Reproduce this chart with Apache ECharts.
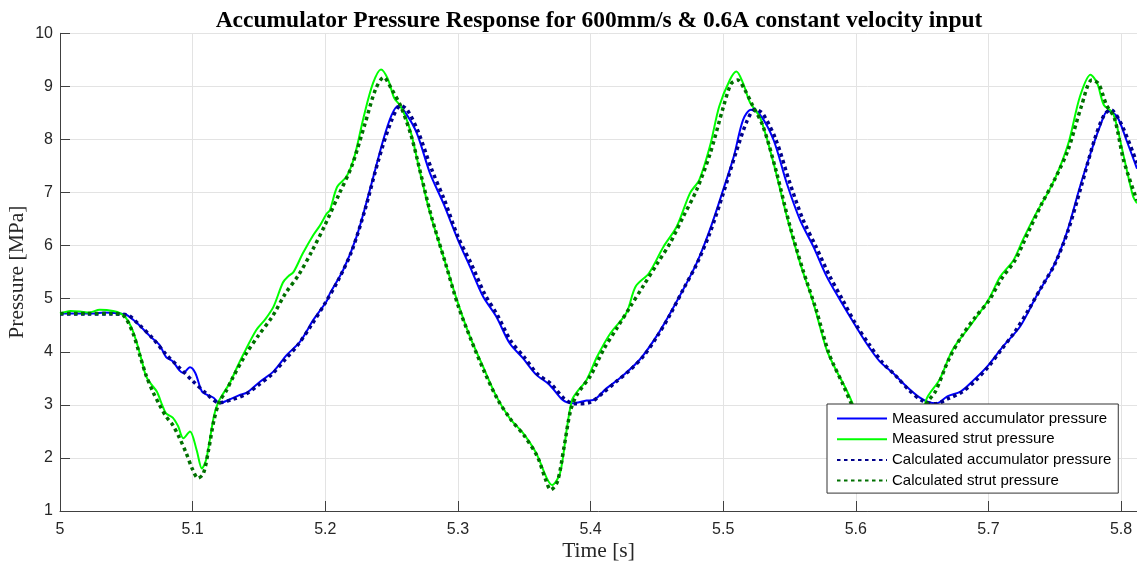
<!DOCTYPE html>
<html>
<head>
<meta charset="utf-8">
<script src="https://cdn.jsdelivr.net/npm/echarts@6/dist/echarts.min.js"></script>
<style>
html,body{margin:0;padding:0;background:#fff;}
#chart{width:1137px;height:565px;}
</style>
</head>
<body>
<div id="chart"></div>
<script>
// ---- Data ----
const titleText = 'Accumulator Pressure Response for 600mm/s & 0.6A constant velocity input';
const xTicks = [5, 5.1, 5.2, 5.3, 5.4, 5.5, 5.6, 5.7, 5.8];
const yTicks = [1, 2, 3, 4, 5, 6, 7, 8, 9, 10];
const seriesNames = ['Measured accumulator pressure', 'Measured strut pressure', 'Calculated accumulator pressure', 'Calculated strut pressure'];

const measAccT = [5.000,5.010,5.025,5.033,5.045,5.050,5.058,5.068,5.075,5.080,5.085,5.090,5.093,5.098,5.102,5.107,5.111,5.116,5.120,5.126,5.136,5.141,5.151,5.161,5.171,5.181,5.191,5.201,5.2035,5.2135,5.2236,5.2336,5.2437,5.250,5.255,5.260,5.269,5.279,5.289,5.300,5.309,5.319,5.329,5.339,5.349,5.359,5.369,5.379,5.386,5.397,5.402,5.412,5.422,5.437,5.452,5.467,5.480,5.490,5.500,5.508,5.515,5.521,5.528,5.538,5.548,5.558,5.568,5.578,5.588,5.600,5.608,5.618,5.628,5.638,5.648,5.655,5.661,5.669,5.679,5.689,5.700,5.711,5.724,5.736,5.749,5.759,5.769,5.777,5.784,5.790,5.797,5.804,5.812];
const measAccP = [4.72,4.72,4.72,4.74,4.72,4.70,4.54,4.29,4.13,3.90,3.82,3.65,3.60,3.71,3.60,3.25,3.19,3.13,3.03,3.08,3.19,3.23,3.44,3.63,3.94,4.19,4.60,4.95,5.10,5.54,6.17,7.05,7.99,8.46,8.63,8.52,8.12,7.36,6.80,6.11,5.61,5.04,4.66,4.16,3.88,3.57,3.38,3.09,3.03,3.08,3.09,3.31,3.50,3.85,4.38,5.04,5.67,6.30,7.05,7.68,8.37,8.56,8.46,7.99,7.17,6.48,5.98,5.42,4.98,4.48,4.16,3.82,3.60,3.35,3.14,3.05,3.03,3.16,3.25,3.47,3.75,4.10,4.48,5.04,5.61,6.24,7.11,7.74,8.24,8.54,8.43,7.99,7.45];

const measStrutT = [5.000,5.008,5.015,5.022,5.030,5.040,5.046,5.050,5.054,5.058,5.062,5.065,5.069,5.073,5.077,5.080,5.085,5.089,5.093,5.098,5.103,5.107,5.110,5.112,5.116,5.119,5.124,5.128,5.133,5.138,5.148,5.155,5.161,5.168,5.172,5.176,5.183,5.191,5.196,5.201,5.2035,5.209,5.216,5.222,5.229,5.236,5.242,5.247,5.252,5.257,5.264,5.271,5.279,5.289,5.300,5.309,5.319,5.329,5.339,5.349,5.359,5.367,5.371,5.377,5.382,5.386,5.390,5.397,5.405,5.415,5.427,5.434,5.444,5.455,5.465,5.475,5.482,5.490,5.497,5.505,5.510,5.515,5.520,5.528,5.538,5.548,5.558,5.568,5.578,5.585,5.593,5.598,5.605,5.615,5.625,5.635,5.641,5.647,5.653,5.663,5.673,5.686,5.700,5.709,5.719,5.726,5.736,5.746,5.754,5.761,5.769,5.777,5.782,5.787,5.794,5.802,5.809,5.812];
const measStrutP = [4.72,4.77,4.76,4.74,4.79,4.77,4.72,4.63,4.45,4.16,3.80,3.53,3.38,3.25,3.00,2.84,2.76,2.60,2.37,2.50,2.15,1.80,1.95,2.20,2.78,3.03,3.25,3.41,3.68,3.94,4.41,4.62,4.85,5.30,5.42,5.50,5.85,6.20,6.38,6.60,6.67,7.11,7.30,7.68,8.43,9.06,9.32,9.15,8.78,8.62,8.18,7.43,6.61,5.80,4.92,4.29,3.72,3.16,2.75,2.47,2.09,1.62,1.49,1.71,2.53,3.09,3.25,3.47,3.91,4.35,4.73,5.23,5.48,5.98,6.36,6.99,7.24,7.87,8.62,9.12,9.28,9.06,8.71,8.40,7.55,6.55,5.67,4.92,4.04,3.66,3.28,3.00,2.60,2.25,1.95,1.60,1.50,2.20,3.09,3.47,4.04,4.48,4.98,5.42,5.73,6.11,6.61,7.05,7.49,7.99,8.81,9.22,9.06,8.65,8.49,7.68,6.93,6.80];

const calcAccT = [5.000,5.020,5.040,5.050,5.060,5.070,5.080,5.090,5.100,5.110,5.120,5.130,5.140,5.150,5.160,5.170,5.180,5.190,5.200,5.210,5.220,5.230,5.240,5.250,5.257,5.262,5.270,5.280,5.290,5.300,5.310,5.320,5.330,5.340,5.350,5.360,5.370,5.380,5.388,5.400,5.410,5.420,5.430,5.440,5.450,5.460,5.470,5.480,5.490,5.500,5.510,5.518,5.524,5.530,5.540,5.550,5.560,5.570,5.580,5.590,5.600,5.610,5.620,5.630,5.640,5.650,5.660,5.670,5.680,5.690,5.700,5.710,5.720,5.730,5.740,5.750,5.760,5.770,5.780,5.787,5.792,5.800,5.812];
const calcAccP = [4.71,4.71,4.71,4.70,4.50,4.25,3.95,3.70,3.45,3.22,3.04,3.10,3.20,3.38,3.58,3.86,4.15,4.52,4.92,5.36,5.90,6.68,7.60,8.36,8.64,8.55,8.15,7.45,6.85,6.17,5.66,5.10,4.68,4.20,3.90,3.58,3.40,3.12,3.02,3.05,3.24,3.45,3.66,3.92,4.28,4.70,5.18,5.65,6.24,6.98,7.78,8.35,8.57,8.48,7.98,7.20,6.50,5.98,5.44,4.98,4.52,4.14,3.80,3.55,3.28,3.08,3.02,3.12,3.24,3.45,3.72,4.05,4.38,4.78,5.22,5.65,6.28,7.12,8.00,8.45,8.56,8.30,7.55];

const calcStrutT = [5.000,5.020,5.040,5.048,5.055,5.060,5.065,5.070,5.075,5.080,5.085,5.090,5.095,5.100,5.104,5.108,5.112,5.116,5.120,5.125,5.130,5.140,5.150,5.160,5.170,5.180,5.190,5.200,5.210,5.220,5.230,5.238,5.244,5.250,5.257,5.265,5.272,5.280,5.290,5.300,5.310,5.320,5.330,5.340,5.350,5.360,5.366,5.370,5.375,5.380,5.385,5.390,5.400,5.410,5.420,5.430,5.440,5.450,5.460,5.470,5.480,5.490,5.500,5.506,5.511,5.516,5.522,5.530,5.540,5.550,5.560,5.570,5.580,5.590,5.598,5.610,5.625,5.637,5.645,5.653,5.660,5.670,5.680,5.690,5.700,5.710,5.720,5.730,5.740,5.750,5.760,5.770,5.778,5.783,5.789,5.795,5.802,5.812];
const calcStrutP = [4.72,4.72,4.72,4.68,4.35,3.95,3.55,3.25,3.00,2.78,2.62,2.38,2.10,1.78,1.62,1.70,2.15,2.70,3.05,3.25,3.50,3.95,4.32,4.66,5.10,5.45,5.90,6.40,6.95,7.50,8.30,8.95,9.17,8.95,8.62,8.05,7.35,6.55,5.72,4.88,4.22,3.62,3.10,2.72,2.42,2.02,1.60,1.40,1.55,2.20,2.90,3.20,3.55,4.05,4.45,4.85,5.25,5.65,6.05,6.55,7.05,7.72,8.60,9.05,9.12,8.95,8.65,8.25,7.40,6.40,5.55,4.80,3.95,3.40,2.95,2.40,1.90,1.45,1.90,3.00,3.25,3.85,4.30,4.65,4.95,5.38,5.72,6.25,6.78,7.25,7.80,8.62,9.12,9.05,8.65,8.40,7.60,6.85];

// ---- Build ----
function zip(t, p) { return t.map((v, i) => [v, p[i]]); }
const sans = '"Liberation Sans", Arial, sans-serif';
const serif = '"Liberation Serif", "Times New Roman", serif';
const tickColor = '#262626';

const chart = echarts.init(document.getElementById('chart'), null, {renderer: 'canvas'});
const option = {
  animation: false,
  backgroundColor: '#ffffff',
  title: {
    text: titleText,
    left: 594,
    textAlign: 'center',
    top: 4,
    textStyle: {fontFamily: serif, fontWeight: 'bold', fontSize: 23.5, color: '#000'}
  },
  grid: {left: 60, right: 0, top: 33.3, bottom: 54, containLabel: false, outerBoundsMode: 'none'},
  xAxis: {
    type: 'value', min: 5, max: 5.812, interval: 0.1,
    name: 'Time [s]', nameLocation: 'middle', nameGap: 29, nameMoveOverlap: false,
    nameTextStyle: {fontFamily: serif, fontSize: 21.5, color: tickColor},
    axisLine: {show: true, onZero: false, lineStyle: {color: '#404040', width: 1}},
    axisTick: {show: true, inside: true, length: 10, lineStyle: {color: '#404040'}},
    axisLabel: {fontFamily: sans, fontSize: 16, color: tickColor, margin: 11,
      showMaxLabel: false,
      formatter: v => String(+v.toFixed(2))},
    splitLine: {show: true, lineStyle: {color: '#e3e3e3', width: 1}}
  },
  yAxis: {
    type: 'value', min: 1, max: 10, interval: 1,
    name: 'Pressure [MPa]', nameLocation: 'middle', nameGap: 32, nameMoveOverlap: false,
    nameTextStyle: {fontFamily: serif, fontSize: 21.5, color: tickColor},
    axisLine: {show: true, lineStyle: {color: '#404040', width: 1}},
    axisTick: {show: true, inside: true, length: 10, lineStyle: {color: '#404040'}},
    axisLabel: {fontFamily: sans, fontSize: 16, color: tickColor, margin: 7},
    splitLine: {show: true, lineStyle: {color: '#e3e3e3', width: 1}}
  },
  legend: {
    orient: 'vertical', left: 827, top: 404,
    backgroundColor: '#ffffff', borderColor: '#333', borderWidth: 1,
    padding: [7, 7, 5, 9], itemGap: 5.7, itemWidth: 50, itemHeight: 15,
    itemStyle: {opacity: 0},
    textStyle: {fontFamily: sans, fontSize: 15, color: '#000', lineHeight: 15},
    data: seriesNames, z: 10
  },
  series: [
    {name: seriesNames[0], type: 'line', data: zip(measAccT, measAccP), symbol: 'none', smooth: 0.3,
     lineStyle: {color: '#0000ff', width: 2}, itemStyle: {color: '#0000ff'}, z: 2},
    {name: seriesNames[1], type: 'line', data: zip(measStrutT, measStrutP), symbol: 'none', smooth: 0.3,
     lineStyle: {color: '#00ff00', width: 2}, itemStyle: {color: '#00ff00'}, z: 2},
    {name: seriesNames[2], type: 'line', data: zip(calcAccT, calcAccP), symbol: 'none', smooth: 0.3,
     lineStyle: {color: '#00008b', width: 3.5, type: [3.5, 3.5]}, itemStyle: {color: '#00008b'}, z: 3},
    {name: seriesNames[3], type: 'line', data: zip(calcStrutT, calcStrutP), symbol: 'none', smooth: 0.3,
     lineStyle: {color: '#007000', width: 3.5, type: [3.5, 3.5]}, itemStyle: {color: '#007000'}, z: 3}
  ]
};
chart.setOption(option);
</script>
</body>
</html>
